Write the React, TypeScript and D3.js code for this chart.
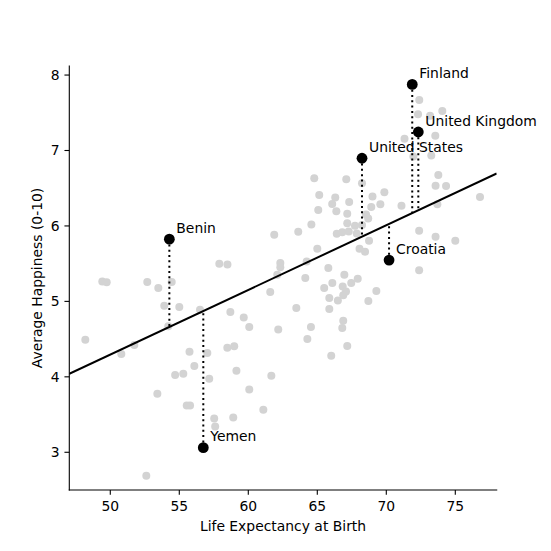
import React from "react";
import * as d3 from "d3";

const grayLife = [49.42, 49.74, 52.68, 53.48, 54.45, 53.91, 55.0, 56.5, 54.2, 48.19, 51.74, 50.8, 55.74, 56.09, 54.7, 55.29, 53.41, 55.54, 55.78, 52.61, 57.9, 58.49, 62.32, 62.32, 62.1, 64.13, 65.8, 66.09, 65.5, 65.87, 66.49, 65.87, 61.59, 63.48, 58.7, 59.67, 60.07, 62.17, 64.54, 64.28, 57.03, 58.48, 58.98, 66.01, 57.17, 59.14, 61.67, 60.07, 61.09, 57.53, 58.91, 57.6, 64.23, 66.96, 66.84, 67.46, 67.93, 67.08, 66.88, 69.28, 68.7, 66.88, 66.81, 67.17, 72.38, 64.78, 67.1, 68.24, 65.14, 66.3, 66.08, 67.31, 69.0, 69.86, 69.57, 68.91, 65.07, 66.38, 67.17, 68.53, 68.69, 64.57, 63.62, 61.88, 67.17, 67.73, 68.24, 66.41, 66.81, 67.28, 67.86, 65.0, 68.06, 68.46, 68.75, 72.39, 72.3, 73.17, 74.06, 73.55, 71.32, 71.96, 73.26, 73.77, 73.57, 74.33, 76.79, 73.7, 71.1, 72.38, 73.57, 75.0];
const grayHappy = [5.265, 5.254, 5.257, 5.177, 5.257, 4.943, 4.926, 4.89, 4.669, 4.493, 4.423, 4.302, 4.331, 4.143, 4.024, 4.04, 3.775, 3.62, 3.62, 2.69, 5.499, 5.489, 5.508, 5.452, 5.353, 5.31, 5.442, 5.243, 5.179, 5.045, 5.013, 4.899, 5.124, 4.913, 4.86, 4.788, 4.661, 4.626, 4.661, 4.503, 4.317, 4.384, 4.405, 4.278, 3.975, 4.081, 4.015, 3.832, 3.565, 3.448, 3.462, 3.343, 5.529, 5.353, 5.198, 5.243, 5.3, 5.132, 5.082, 5.138, 5.005, 4.742, 4.646, 4.41, 5.413, 6.632, 6.62, 6.566, 6.411, 6.376, 6.29, 6.316, 6.389, 6.447, 6.288, 6.25, 6.21, 6.196, 6.16, 6.151, 6.098, 6.019, 5.922, 5.882, 6.037, 6.001, 6.011, 5.898, 5.915, 5.926, 5.899, 5.697, 5.697, 5.657, 5.803, 7.668, 7.48, 7.459, 7.522, 7.194, 7.156, 6.921, 6.934, 6.676, 6.533, 6.53, 6.382, 6.288, 6.268, 5.935, 5.856, 5.803];

const highlightNames = ["Finland", "United Kingdom", "United States", "Croatia", "Benin", "Yemen"];
const highlightLife = [71.88, 72.32, 68.24, 70.2, 54.28, 56.74];
const highlightHappy = [7.876, 7.245, 6.897, 5.547, 5.825, 3.061];

const fitSlope = 0.08573;
const fitIntercept = 0.008;

const xTicks = [50, 55, 60, 65, 70, 75];
const yTicks = [3, 4, 5, 6, 7, 8];
const xDomain = [47.03, 78.0];
const yDomain = [2.5, 8.12];

const xLabel = "Life Expectancy at Birth";
const yLabel = "Average Happiness (0-10)";

const W = 551, H = 551;
const L = 69.3, R = 496.7, T = 66, B = 490;
const FONT = "'DejaVu Sans', sans-serif";
const FS = 13.9;

export default function App() {
  const x = d3.scaleLinear().domain(xDomain).range([L, R]);
  const y = d3.scaleLinear().domain(yDomain).range([B, T]);
  const fit = (v: number) => fitIntercept + fitSlope * v;
  const line = d3.line<number>().x((d) => x(d)).y((d) => y(fit(d)));
  const tick = 4.86;
  return (
    <svg width={W} height={H} style={{ position: "absolute", left: 0, top: 0, background: "#fff" }} fontFamily={FONT}>
      <defs>
        <clipPath id="plot">
          <rect x={L} y={T} width={R - L} height={B - T} />
        </clipPath>
      </defs>
      <g clipPath="url(#plot)">
        {grayLife.map((v, i) => (
          <circle key={i} cx={x(v)} cy={y(grayHappy[i])} r={4} fill="#d3d3d3" />
        ))}
        <path d={line(xDomain) || ""} stroke="#000" strokeWidth={2} fill="none" />
        {highlightLife.map((v, i) => (
          <line key={i} x1={x(v)} x2={x(v)} y1={y(highlightHappy[i])} y2={y(fit(v))} stroke="#000" strokeWidth={2} strokeDasharray="2 3.3" />
        ))}
        {highlightLife.map((v, i) => (
          <circle key={i} cx={x(v)} cy={y(highlightHappy[i])} r={5.4} fill="#000" />
        ))}
      </g>
      {highlightLife.map((v, i) => (
        <text key={i} x={x(v) + 7} y={y(highlightHappy[i]) - 6.5} fontSize={FS} fill="#000">
          {highlightNames[i]}
        </text>
      ))}
      <line x1={L} x2={L} y1={T} y2={B} stroke="#000" strokeWidth={1.1} strokeLinecap="square" />
      <line x1={L} x2={R} y1={B} y2={B} stroke="#000" strokeWidth={1.1} strokeLinecap="square" />
      {xTicks.map((t) => (
        <g key={t}>
          <line x1={x(t)} x2={x(t)} y1={B} y2={B + tick} stroke="#000" strokeWidth={1.1} />
          <text x={x(t)} y={B + 20.5} fontSize={FS} textAnchor="middle" fill="#000">{t}</text>
        </g>
      ))}
      {yTicks.map((t) => (
        <g key={t}>
          <line x1={L - tick} x2={L} y1={y(t)} y2={y(t)} stroke="#000" strokeWidth={1.1} />
          <text x={L - tick - 4.9} y={y(t) + 5} fontSize={FS} textAnchor="end" fill="#000">{t}</text>
        </g>
      ))}
      <text x={(L + R) / 2} y={531} fontSize={FS} textAnchor="middle" fill="#000">{xLabel}</text>
      <text transform={`translate(42,${(T + B) / 2}) rotate(-90)`} fontSize={FS} textAnchor="middle" fill="#000">{yLabel}</text>
    </svg>
  );
}
